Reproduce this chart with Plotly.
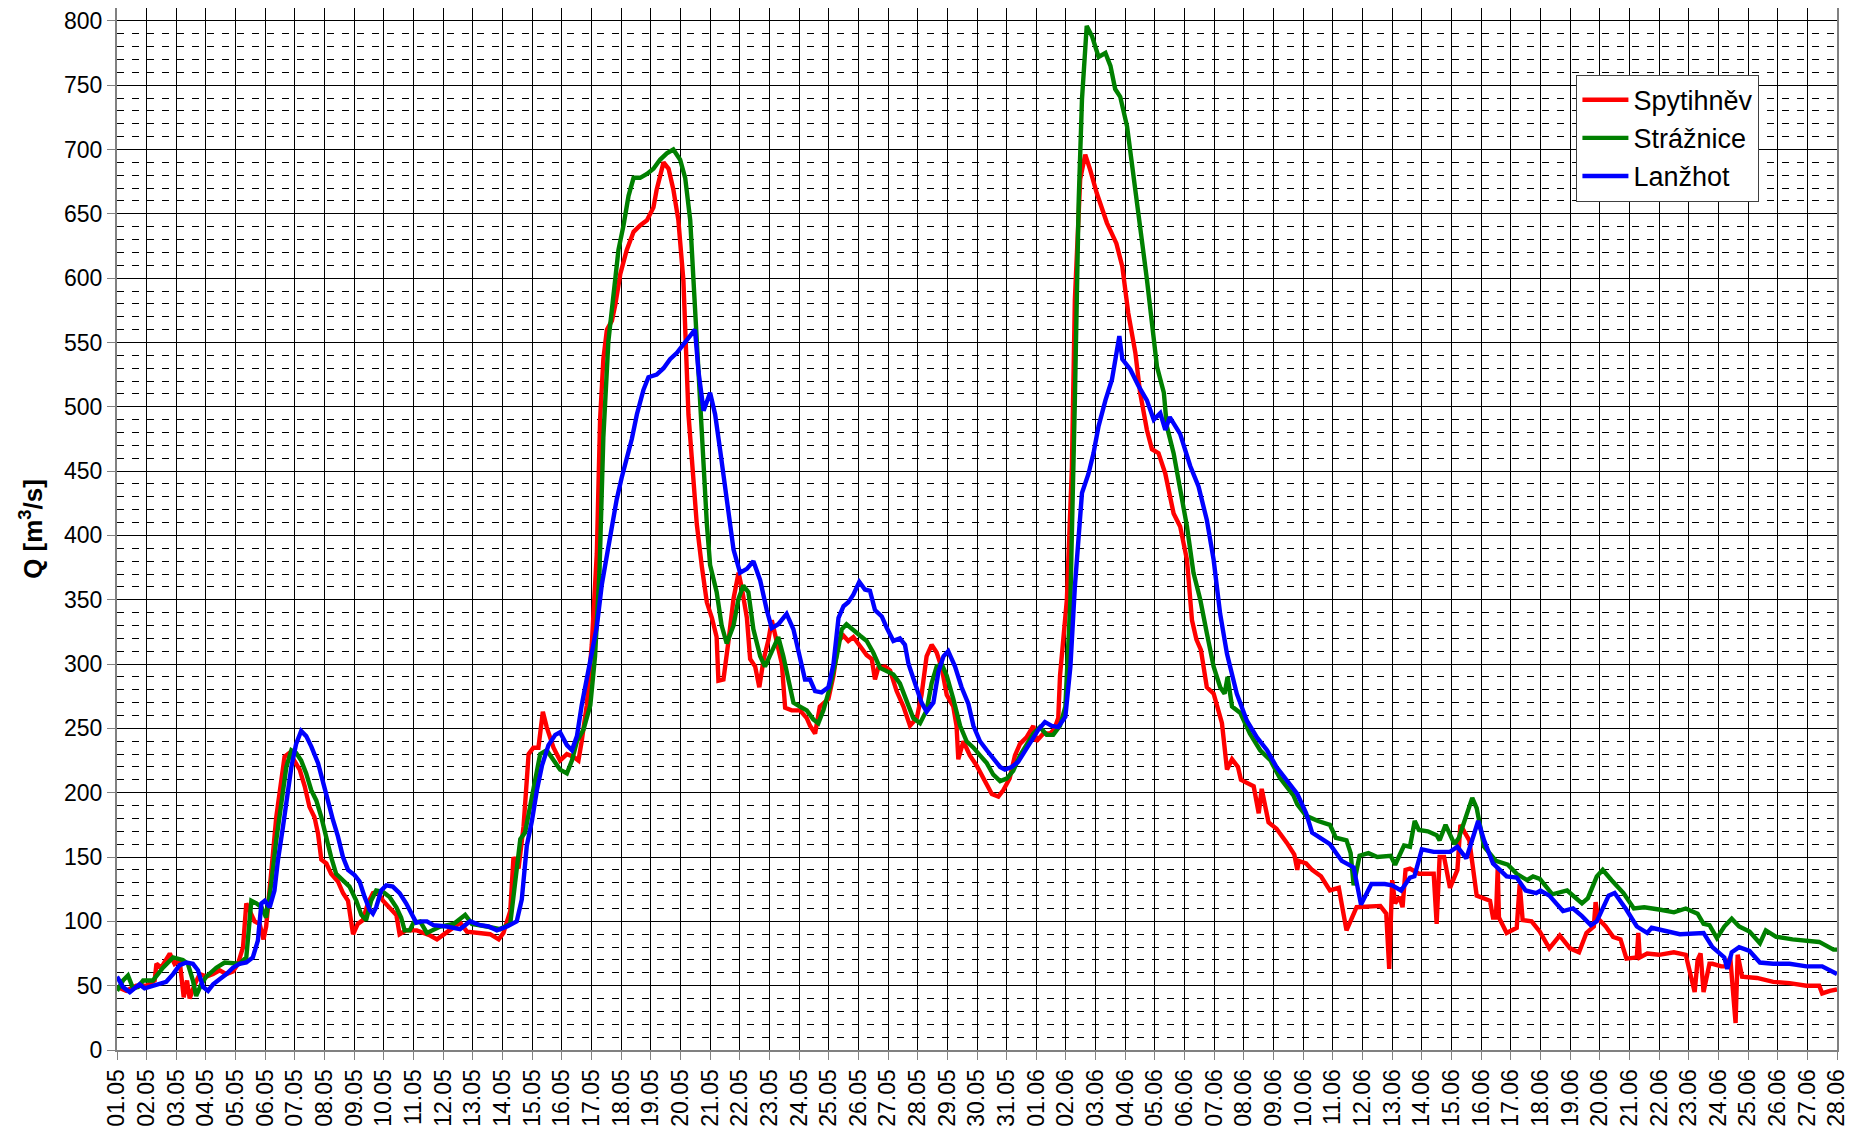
import pandas as pd
import plotly.graph_objects as go

START = "2010-05-01"
N_DAYS = 58
STATIONS = ["Spytihněv", "Strážnice", "Lanžhot"]
COLORS = ["#FF0000", "#008000", "#0000FF"]

# time in days after 01.05 00:00, discharge in m3/s
spyt_days = [0, 0.31, 0.65, 0.99, 1.27, 1.33, 1.49, 1.78, 1.94, 2.11, 2.25, 2.36, 2.45, 2.62, 2.79, 3.01, 3.24, 3.46, 3.69, 3.91,
             4.08, 4.25, 4.36, 4.47, 4.64, 4.81, 4.94, 5.03, 5.15, 5.26, 5.37, 5.48, 5.65, 5.82, 5.99, 6.16, 6.33, 6.49, 6.66, 6.78,
             6.89, 7.06, 7.22, 7.45, 7.62, 7.79, 7.96, 8.12, 8.29, 8.46, 8.63, 8.8, 8.97, 9.19, 9.42, 9.53, 9.75, 10.11, 10.56, 10.79,
             11.24, 11.57, 11.8, 12.25, 12.58, 12.87, 13.03, 13.26, 13.37, 13.54, 13.71, 13.88, 14.04, 14.21, 14.36, 14.49, 14.72, 14.94, 15.17, 15.39,
             15.56, 15.67, 15.84, 16.01, 16.18, 16.29, 16.4, 16.52, 16.69, 16.8, 16.97, 17.19, 17.42, 17.64, 17.87, 18.09, 18.2, 18.43, 18.6, 18.76,
             18.93, 19.1, 19.27, 19.38, 19.55, 19.72, 19.89, 20.06, 20.22, 20.28, 20.45, 20.62, 20.79, 20.96, 21.07, 21.24, 21.35, 21.52, 21.66, 21.8,
             21.97, 22.08, 22.25, 22.42, 22.53, 22.75, 23.03, 23.26, 23.37, 23.54, 23.7, 23.99, 24.16, 24.33, 24.5, 24.66, 24.83, 25.0, 25.28, 25.45,
             25.56, 25.67, 25.9, 26.07, 26.29, 26.52, 26.74, 26.97, 27.13, 27.3, 27.47, 27.64, 27.81, 27.98, 28.2, 28.31, 28.37, 28.54, 28.76, 28.99,
             29.21, 29.35, 29.5, 29.72, 29.89, 30.1, 30.28, 30.45, 30.67, 30.9, 31.0, 31.24, 31.46, 31.6, 31.74, 31.8, 32.03, 32.2, 32.3, 32.48,
             32.65, 32.82, 33.04, 33.38, 33.7, 33.9, 34.1, 34.34, 34.5, 34.73, 34.9, 35.12, 35.35, 35.63, 35.85, 36.08, 36.25, 36.4, 36.55, 36.75,
             36.98, 37.26, 37.43, 37.6, 37.8, 37.9, 38.33, 38.5, 38.6, 38.83, 39.1, 39.45, 39.7, 39.8, 39.85, 40.1, 40.3, 40.6, 40.9, 41.2,
             41.46, 41.8, 42.6, 42.8, 42.9, 43.0, 43.1, 43.25, 43.35, 43.45, 43.6, 43.9, 44.4, 44.5, 44.6, 44.75, 44.95, 45.2, 45.3, 45.6,
             45.85, 46.3, 46.4, 46.5, 46.56, 46.6, 46.86, 47.2, 47.3, 47.4, 47.7, 47.98, 48.3, 48.65, 49.0, 49.3, 49.55, 49.8, 49.86, 49.95,
             50.2, 50.45, 50.7, 50.9, 51.25, 51.3, 51.35, 51.6, 52.0, 52.5, 52.9, 53.2, 53.3, 53.4, 53.5, 53.7, 53.8, 54.1, 54.25, 54.4,
             54.58, 54.65, 54.8, 55.3, 55.85, 56.4, 56.97, 57.4, 57.5, 57.76, 58.0]
spyt_q = [49, 46, 50, 50, 54, 67, 64, 75, 67, 70, 41, 54, 40, 51, 59, 57, 59, 62, 59, 61,
          67, 80, 114, 108, 100, 98, 86, 96, 122, 153, 181, 202, 228, 231, 225, 218, 205, 189, 181, 168,
          148, 145, 137, 131, 122, 116, 90, 98, 101, 114, 122, 123, 116, 111, 105, 90, 93, 93, 89, 86,
          93, 99, 92, 91, 90, 86, 91, 108, 150, 141, 174, 230, 235, 235, 263, 251, 235, 225, 230, 228,
          225, 240, 268, 315, 386, 490, 537, 560, 567, 579, 603, 622, 636, 641, 645, 655, 669, 690, 685, 669,
          645, 598, 494, 461, 409, 376, 348, 336, 321, 287, 288, 318, 351, 371, 359, 336, 304, 298, 282, 303,
          319, 334, 315, 300, 266, 264, 264, 258, 252, 246, 267, 273, 291, 318, 322, 318, 321, 316, 307, 304,
          288, 297, 298, 295, 279, 267, 252, 258, 276, 306, 315, 309, 297, 276, 267, 252, 226, 240, 229, 221,
          211, 205, 199, 197, 202, 211, 229, 238, 243, 252, 240, 246, 246, 249, 258, 291, 350, 453, 583, 677,
          696, 684, 666, 643, 627, 609, 573, 542, 511, 482, 467, 464, 448, 417, 407, 381, 334, 319, 311, 282,
          277, 254, 218, 226, 220, 210, 205, 184, 203, 177, 172, 161, 152, 140, 147, 145, 140, 135, 124, 126,
          93, 111, 112, 106, 63, 132, 114, 119, 111, 140, 141, 137, 137, 98, 150, 150, 126, 140, 175, 163,
          120, 116, 103, 103, 142, 103, 91, 95, 129, 101, 100, 92, 79, 89, 79, 76, 91, 96, 115, 102,
          96, 88, 86, 71, 72, 91, 72, 75, 74, 76, 74, 45, 70, 75, 45, 67, 67, 65, 65, 72,
          21, 74, 57, 56, 53, 52, 50, 50, 44, 46, 47]

straz_days = [0, 0.2, 0.37, 0.54, 0.71, 0.88, 1.21, 1.55, 1.89, 2.22, 2.39, 2.56, 2.67, 2.84, 3.01, 3.35, 3.63, 3.91, 4.13, 4.36,
              4.53, 4.7, 4.87, 5.03, 5.2, 5.37, 5.54, 5.71, 5.88, 6.04, 6.21, 6.38, 6.55, 6.72, 6.89, 7.06, 7.22, 7.39, 7.62, 7.84,
              8.07, 8.24, 8.4, 8.57, 8.74, 8.97, 9.19, 9.42, 9.58, 9.7, 9.87, 10.0, 10.22, 10.45, 10.9, 11.35, 11.74, 11.97, 12.47, 12.92,
              13.26, 13.43, 13.6, 13.76, 13.93, 14.1, 14.27, 14.49, 14.72, 14.94, 15.17, 15.34, 15.51, 15.73, 15.96, 16.12, 16.27, 16.4, 16.57, 16.74,
              16.91, 17.08, 17.25, 17.42, 17.64, 17.87, 18.09, 18.31, 18.54, 18.76, 18.99, 19.16, 19.33, 19.44, 19.61, 19.72, 19.89, 20.0, 20.22, 20.39,
              20.56, 20.79, 20.96, 21.12, 21.29, 21.46, 21.69, 21.85, 22.08, 22.3, 22.47, 22.64, 22.81, 23.03, 23.26, 23.48, 23.65, 23.82, 24.04, 24.27,
              24.44, 24.6, 24.83, 25.06, 25.28, 25.5, 25.73, 25.96, 26.18, 26.4, 26.63, 26.85, 27.08, 27.3, 27.47, 27.64, 27.81, 27.98, 28.2, 28.43,
              28.65, 28.88, 29.1, 29.33, 29.55, 29.78, 30.0, 30.22, 30.45, 30.67, 30.9, 31.12, 31.35, 31.57, 31.8, 31.98, 32.15, 32.3, 32.43, 32.54,
              32.7, 32.88, 33.1, 33.33, 33.5, 33.66, 33.83, 34.06, 34.28, 34.5, 34.73, 34.9, 35.07, 35.3, 35.4, 35.63, 35.85, 36.08, 36.3, 36.53,
              36.75, 36.98, 37.2, 37.35, 37.45, 37.6, 37.88, 38.2, 38.55, 38.9, 39.2, 39.67, 39.8, 40.1, 40.5, 40.9, 41.1, 41.46, 41.6, 41.7,
              41.9, 42.2, 42.5, 42.95, 43.1, 43.4, 43.6, 43.76, 43.9, 44.2, 44.5, 44.6, 44.8, 45.1, 45.25, 45.7, 45.85, 46.1, 46.5, 46.9,
              47.2, 47.55, 47.75, 47.98, 48.4, 48.9, 49.4, 49.6, 49.9, 50.1, 50.4, 50.8, 51.15, 51.5, 52.05, 52.5, 52.9, 53.3, 53.5, 53.7,
              53.95, 54.2, 54.45, 54.7, 55.05, 55.4, 55.6, 55.95, 56.5, 56.97, 57.4, 57.88, 58.0]
straz_q = [46, 54, 58, 48, 49, 54, 54, 64, 72, 70, 67, 54, 42, 51, 57, 64, 68, 67, 67, 72,
           116, 114, 111, 103, 129, 163, 194, 220, 233, 231, 225, 215, 202, 194, 181, 163, 150, 137, 132, 127,
           116, 105, 101, 116, 124, 123, 119, 111, 103, 93, 93, 99, 100, 91, 96, 98, 105, 98, 96, 94,
           98, 131, 164, 169, 188, 207, 230, 233, 225, 218, 215, 225, 240, 249, 268, 306, 372, 476, 551, 584,
           622, 641, 664, 678, 678, 681, 685, 692, 697, 700, 692, 678, 645, 598, 527, 466, 409, 377, 356, 330,
           316, 330, 351, 361, 356, 327, 306, 298, 309, 321, 306, 288, 270, 267, 264, 257, 254, 264, 282, 306,
           327, 331, 327, 322, 318, 309, 297, 294, 292, 285, 270, 258, 254, 264, 285, 298, 300, 291, 273, 252,
           240, 235, 229, 223, 214, 209, 211, 217, 229, 238, 246, 251, 245, 245, 252, 267, 350, 505, 661, 739,
           796, 788, 772, 775, 765, 747, 741, 718, 682, 640, 599, 568, 531, 511, 485, 464, 438, 407, 371, 350,
           324, 298, 282, 277, 290, 267, 262, 246, 233, 225, 212, 198, 191, 182, 178, 175, 165, 163, 153, 128,
           151, 153, 150, 151, 144, 159, 158, 178, 171, 170, 167, 163, 175, 160, 165, 196, 188, 158, 147, 144,
           137, 132, 135, 133, 121, 124, 114, 118, 135, 140, 132, 122, 110, 111, 109, 107, 110, 106, 98, 97,
           87, 96, 102, 96, 92, 83, 93, 88, 86, 85, 84, 78, 78]

lanz_days = [0, 0.2, 0.43, 0.65, 0.76, 0.93, 1.21, 1.44, 1.66, 1.89, 2.11, 2.34, 2.56, 2.73, 2.9, 3.07, 3.24, 3.46, 3.69, 3.91,
             4.13, 4.36, 4.58, 4.75, 4.87, 4.98, 5.15, 5.31, 5.43, 5.6, 5.71, 5.88, 6.04, 6.21, 6.38, 6.55, 6.78, 6.94, 7.11, 7.28,
             7.45, 7.62, 7.79, 8.01, 8.18, 8.35, 8.52, 8.63, 8.74, 8.91, 9.08, 9.3, 9.53, 9.75, 9.92, 10.09, 10.3, 10.45, 10.67, 11.12,
             11.57, 11.91, 12.25, 12.53, 12.81, 13.15, 13.48, 13.65, 13.82, 13.99, 14.16, 14.33, 14.55, 14.78, 14.94, 15.17, 15.34, 15.51, 15.67, 15.84,
             16.01, 16.18, 16.35, 16.52, 16.69, 16.85, 17.02, 17.19, 17.36, 17.53, 17.75, 17.92, 18.2, 18.43, 18.65, 18.88, 19.1, 19.33, 19.49, 19.61,
             19.78, 20.0, 20.17, 20.34, 20.5, 20.67, 20.79, 21.01, 21.24, 21.46, 21.69, 21.91, 22.08, 22.3, 22.58, 22.81, 23.03, 23.2, 23.37, 23.54,
             23.76, 23.99, 24.16, 24.33, 24.5, 24.66, 24.83, 25.03, 25.22, 25.39, 25.56, 25.79, 25.96, 26.18, 26.4, 26.57, 26.69, 26.91, 27.13, 27.3,
             27.53, 27.7, 27.87, 28.03, 28.26, 28.48, 28.71, 28.88, 29.1, 29.33, 29.55, 29.78, 29.94, 30.17, 30.39, 30.62, 30.84, 31.07, 31.29, 31.52,
             31.74, 31.98, 32.15, 32.3, 32.54, 32.76, 32.93, 33.1, 33.33, 33.55, 33.8, 33.9, 34.17, 34.45, 34.73, 34.96, 35.18, 35.35, 35.5, 35.85,
             36.19, 36.47, 36.75, 36.98, 37.2, 37.43, 37.76, 38.1, 38.44, 38.78, 39.1, 39.45, 39.8, 40.1, 40.3, 40.9, 41.3, 41.7, 41.95, 42.3,
             42.75, 43.0, 43.3, 43.6, 43.75, 44.0, 44.4, 44.95, 45.2, 45.5, 45.65, 45.9, 46.1, 46.4, 46.86, 47.2, 47.5, 47.86, 48.0, 48.3,
             48.76, 49.1, 49.4, 49.7, 49.9, 50.3, 50.5, 50.9, 51.25, 51.6, 51.75, 52.25, 52.7, 53.5, 53.8, 54.2, 54.3, 54.45, 54.7, 55.05,
             55.4, 55.85, 56.4, 56.97, 57.5, 58.0]
lanz_q = [57, 49, 45, 49, 51, 48, 50, 52, 53, 59, 66, 68, 67, 62, 49, 46, 51, 55, 59, 64,
          67, 68, 72, 85, 114, 116, 111, 124, 148, 174, 194, 220, 238, 248, 244, 236, 223, 210, 194, 179,
          166, 150, 140, 136, 131, 119, 109, 106, 111, 124, 128, 127, 122, 114, 106, 99, 100, 100, 97, 96,
          94, 100, 97, 96, 93, 96, 100, 117, 159, 178, 202, 221, 237, 245, 247, 237, 233, 244, 268, 287,
          306, 329, 362, 386, 409, 428, 445, 459, 475, 494, 513, 523, 525, 530, 537, 542, 549, 555, 560, 527,
          497, 511, 494, 466, 437, 407, 389, 371, 374, 380, 365, 342, 328, 331, 339, 327, 303, 288, 288, 279,
          278, 282, 300, 336, 345, 348, 354, 364, 358, 357, 342, 337, 328, 318, 320, 315, 300, 285, 270, 263,
          270, 294, 306, 310, 298, 282, 269, 252, 240, 233, 226, 220, 218, 220, 224, 232, 240, 249, 255, 252,
          251, 259, 298, 360, 433, 448, 464, 485, 505, 521, 555, 537, 529, 516, 505, 490, 495, 482, 492, 479,
          454, 438, 412, 381, 339, 308, 277, 256, 243, 233, 220, 210, 199, 184, 169, 160, 147, 142, 113, 129,
          129, 128, 124, 134, 135, 156, 154, 154, 158, 149, 160, 178, 163, 145, 135, 134, 124, 122, 124, 120,
          108, 110, 104, 97, 100, 120, 122, 109, 96, 91, 95, 92, 90, 91, 80, 72, 63, 76, 80, 77,
          68, 67, 67, 65, 65, 59]

Y_MAX = 810
Y_MAJOR = 50
Y_MINOR = 10

base = pd.Timestamp(START)


def to_dates(days):
    return [base + pd.Timedelta(days=d) for d in days]


series_days = [spyt_days, straz_days, lanz_days]
series_q = [spyt_q, straz_q, lanz_q]

FONT = "Liberation Sans, Arial, sans-serif"

fig = go.Figure()
for name, color, days, q in zip(STATIONS, COLORS, series_days, series_q):
    fig.add_trace(go.Scatter(
        x=to_dates(days), y=q, mode="lines", name=name,
        line=dict(color=color, width=4.4),
    ))

# page body adds an 8px offset; figure sized so it fills the window
fig.update_layout(
    width=1850, height=1121,
    margin=dict(l=109, r=21, t=0, b=79),
    paper_bgcolor="white", plot_bgcolor="white",
    font=dict(family=FONT, size=23, color="black"),
    showlegend=True,
    legend=dict(
        x=0.8485, y=0.936, xanchor="left", yanchor="top",
        bgcolor="white", bordercolor="#404040", borderwidth=1,
        font=dict(size=27), itemwidth=46, tracegroupgap=0,
        entrywidth=140, entrywidthmode="pixels",
    ),
)

fig.update_xaxes(
    type="date", automargin=False,
    range=[base, base + pd.Timedelta(days=N_DAYS)],
    tick0=base, dtick=86400000, tickformat="%d.%m", tickangle=-90,
    ticks="outside", ticklen=8, tickcolor="#808080",
    showgrid=True, gridcolor="#000000", gridwidth=1,
    showline=True, linecolor="#808080", linewidth=2, mirror=True,
    zeroline=False, tickfont=dict(size=23), ticklabeloverflow="allow",
)

fig.update_yaxes(
    automargin=False,
    range=[0, Y_MAX], tick0=0, dtick=Y_MAJOR,
    ticks="outside", ticklen=8, tickcolor="#808080",
    showgrid=True, gridcolor="#000000", gridwidth=1,
    minor=dict(dtick=Y_MINOR, showgrid=True, gridcolor="#000000", gridwidth=1,
               griddash="7px,8px", ticks=""),
    showline=True, linecolor="#808080", linewidth=2, mirror=True,
    zeroline=False, tickfont=dict(size=23), ticklabeloverflow="allow",
    title=dict(text="<b>Q [m<sup>3</sup>/s]</b>", font=dict(size=26), standoff=14),
)

fig.write_html("out.html")
